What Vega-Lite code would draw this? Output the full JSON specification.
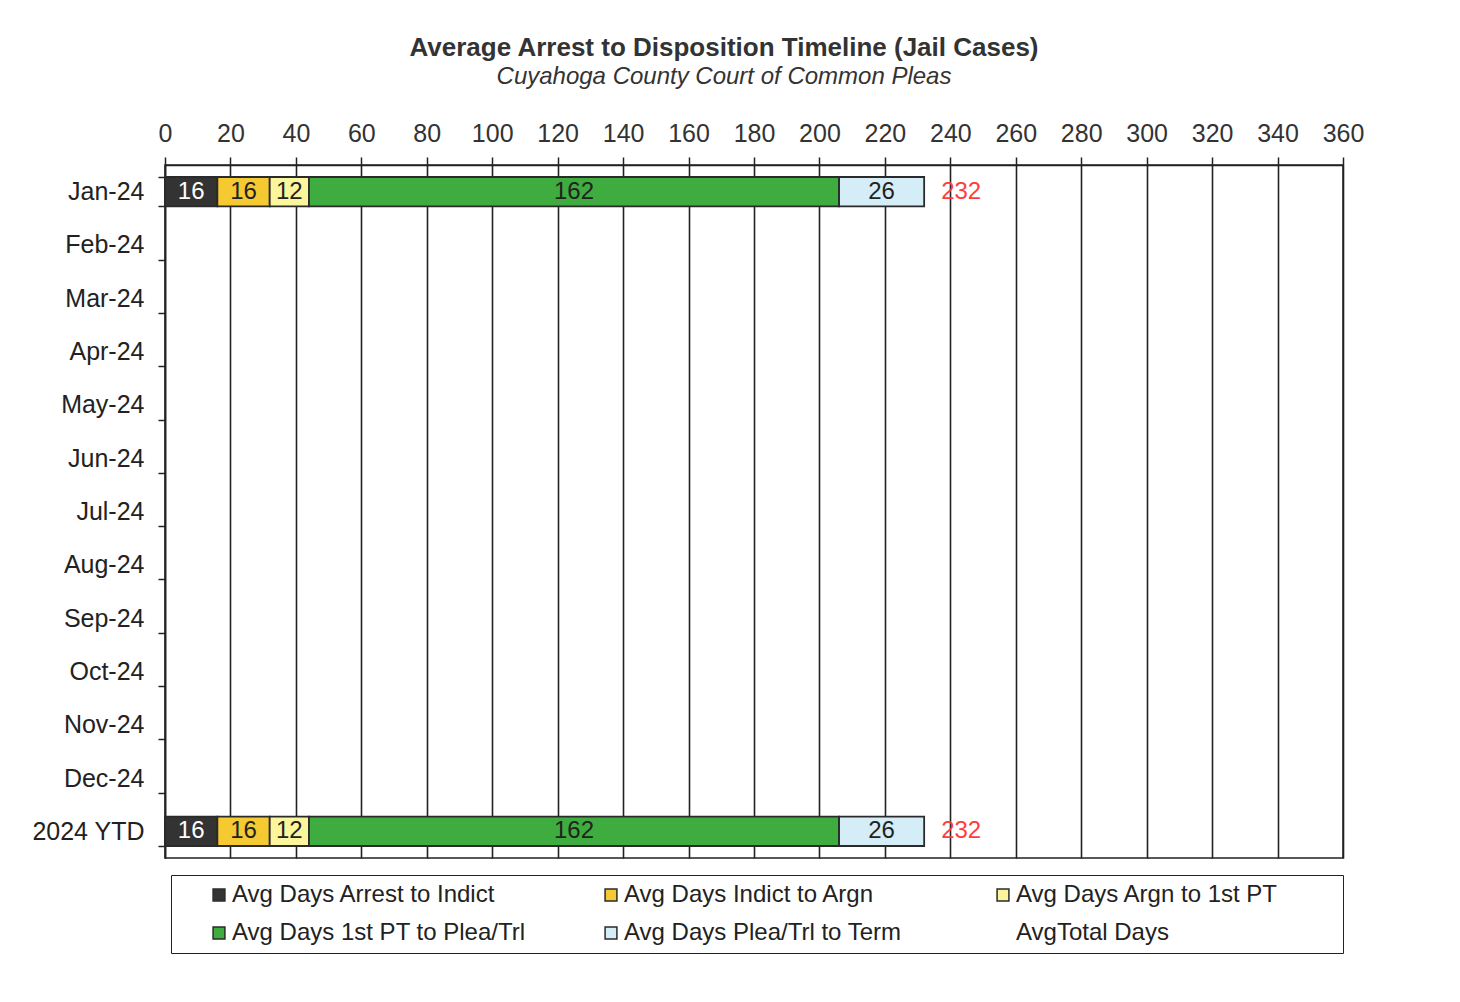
{
  "$schema": "https://vega.github.io/schema/vega-lite/v6.json",
  "width": 1178,
  "height": 693,
  "autosize": {"type": "none"},
  "padding": {"left": 165, "top": 165, "right": 117, "bottom": 144},
  "background": "white",
  "title": {
    "text": "Average Arrest to Disposition  Timeline (Jail Cases)",
    "subtitle": "Cuyahoga County Court of Common Pleas",
    "font": "Liberation Sans",
    "fontSize": 26,
    "fontWeight": "bold",
    "color": "#333333",
    "subtitleFont": "Liberation Sans",
    "subtitleFontSize": 24,
    "subtitleFontStyle": "italic",
    "subtitleColor": "#333333",
    "subtitlePadding": 4,
    "anchor": "middle",
    "dx": -30,
    "offset": 32
  },
  "datasets": {
    "segments": [
      {"month": "Jan-24", "seg": "Avg Days Arrest to Indict", "k": 1, "days": 16},
      {"month": "Jan-24", "seg": "Avg Days Indict to Argn", "k": 2, "days": 16},
      {"month": "Jan-24", "seg": "Avg Days Argn to 1st PT", "k": 3, "days": 12},
      {"month": "Jan-24", "seg": "Avg Days 1st PT to Plea/Trl", "k": 4, "days": 162},
      {"month": "Jan-24", "seg": "Avg Days Plea/Trl to Term", "k": 5, "days": 26},
      {"month": "2024 YTD", "seg": "Avg Days Arrest to Indict", "k": 1, "days": 16},
      {"month": "2024 YTD", "seg": "Avg Days Indict to Argn", "k": 2, "days": 16},
      {"month": "2024 YTD", "seg": "Avg Days Argn to 1st PT", "k": 3, "days": 12},
      {"month": "2024 YTD", "seg": "Avg Days 1st PT to Plea/Trl", "k": 4, "days": 162},
      {"month": "2024 YTD", "seg": "Avg Days Plea/Trl to Term", "k": 5, "days": 26}
    ],
    "totals": [
      {"month": "Jan-24", "total": 232},
      {"month": "2024 YTD", "total": 232}
    ]
  },
  "encoding": {
    "y": {
      "field": "month",
      "type": "nominal",
      "scale": {
        "domain": ["Jan-24", "Feb-24", "Mar-24", "Apr-24", "May-24", "Jun-24", "Jul-24", "Aug-24", "Sep-24", "Oct-24", "Nov-24", "Dec-24", "2024 YTD"],
        "paddingInner": 0.45,
        "paddingOuter": 0.225
      },
      "axis": {
        "title": null,
        "labelFont": "Liberation Sans",
        "labelFontSize": 25,
        "labelColor": "#222222",
        "labelPadding": 14,
        "tickBand": "extent",
        "tickSize": 7,
        "tickColor": "#222222",
        "tickWidth": 1.5,
        "domainColor": "#222222",
        "domainWidth": 1.5,
        "grid": false
      }
    }
  },
  "layer": [
    {
      "data": {"name": "segments"},
      "mark": {"type": "bar", "strokeWidth": 1.8},
      "encoding": {
        "x": {
          "field": "days",
          "type": "quantitative",
          "stack": "zero",
          "scale": {"domain": [0, 360], "nice": false},
          "axis": {
            "orient": "top",
            "title": null,
            "values": [0, 20, 40, 60, 80, 100, 120, 140, 160, 180, 200, 220, 240, 260, 280, 300, 320, 340, 360],
            "labelFont": "Liberation Sans",
            "labelFontSize": 25,
            "labelColor": "#333333",
            "labelPadding": 11,
            "labelFlush": false,
            "labelOverlap": false,
            "tickSize": 8,
            "tickColor": "#222222",
            "tickWidth": 1.5,
            "domainColor": "#222222",
            "domainWidth": 1.5,
            "grid": true,
            "gridColor": "#222222",
            "gridWidth": 1.6,
            "gridOpacity": 1
          }
        },
        "order": {"field": "k", "type": "quantitative"},
        "color": {
          "field": "seg",
          "type": "nominal",
          "scale": {
            "domain": ["Avg Days Arrest to Indict", "Avg Days Indict to Argn", "Avg Days Argn to 1st PT", "Avg Days 1st PT to Plea/Trl", "Avg Days Plea/Trl to Term", "AvgTotal Days"],
            "range": ["#333333", "#f4c932", "#fbf59c", "#3fac3f", "#d5edf7", "transparent"]
          },
          "legend": {
            "title": " ",
            "titleOrient": "right",
            "titlePadding": 57,
            "titleFontSize": 10,
            "orient": "none",
            "legendX": 6,
            "legendY": 710,
            "direction": "horizontal",
            "columns": 3,
            "gridAlign": "all",
            "strokeColor": "#222222",
            "padding": 8,
            "labelFont": "Liberation Sans",
            "labelFontSize": 24,
            "labelColor": "#222222",
            "labelLimit": 400,
            "symbolType": "square",
            "symbolSize": 140,
            "symbolStrokeWidth": 1.5,
            "symbolOffset": 28,
            "labelOffset": 1,
            "columnPadding": 45,
            "rowPadding": 14
          }
        },
        "stroke": {
          "field": "seg",
          "type": "nominal",
          "scale": {
            "domain": ["Avg Days Arrest to Indict", "Avg Days Indict to Argn", "Avg Days Argn to 1st PT", "Avg Days 1st PT to Plea/Trl", "Avg Days Plea/Trl to Term", "AvgTotal Days"],
            "range": ["#2a2a2a", "#2a2a2a", "#2a2a2a", "#2a2a2a", "#2a2a2a", "transparent"]
          },
          "legend": {
            "title": " ",
            "titleOrient": "right",
            "titlePadding": 57,
            "titleFontSize": 10,
            "orient": "none",
            "legendX": 6,
            "legendY": 710,
            "direction": "horizontal",
            "columns": 3,
            "gridAlign": "all",
            "strokeColor": "#222222",
            "padding": 8,
            "labelFont": "Liberation Sans",
            "labelFontSize": 24,
            "labelColor": "#222222",
            "labelLimit": 400,
            "symbolType": "square",
            "symbolSize": 140,
            "symbolStrokeWidth": 1.5,
            "symbolOffset": 28,
            "labelOffset": 1,
            "columnPadding": 45,
            "rowPadding": 14
          }
        }
      }
    },
    {
      "data": {"name": "segments"},
      "mark": {"type": "text", "font": "Liberation Sans", "fontSize": 24, "align": "center", "baseline": "middle"},
      "encoding": {
        "x": {"field": "days", "type": "quantitative", "stack": "zero", "bandPosition": 0.5},
        "detail": {"field": "seg"},
        "order": {"field": "k", "type": "quantitative"},
        "text": {"field": "days", "type": "quantitative"},
        "color": {"condition": {"test": "datum.k == 1", "value": "#ffffff"}, "value": "#222222"}
      }
    },
    {
      "data": {"name": "totals"},
      "mark": {"type": "text", "font": "Liberation Sans", "fontSize": 24, "align": "center", "baseline": "middle", "dx": 37, "color": "#ff3d3d"},
      "encoding": {
        "x": {"field": "total", "type": "quantitative"},
        "text": {"field": "total", "type": "quantitative"}
      }
    }
  ],
  "config": {
    "view": {"stroke": "#222222", "strokeWidth": 1.5}
  }
}
